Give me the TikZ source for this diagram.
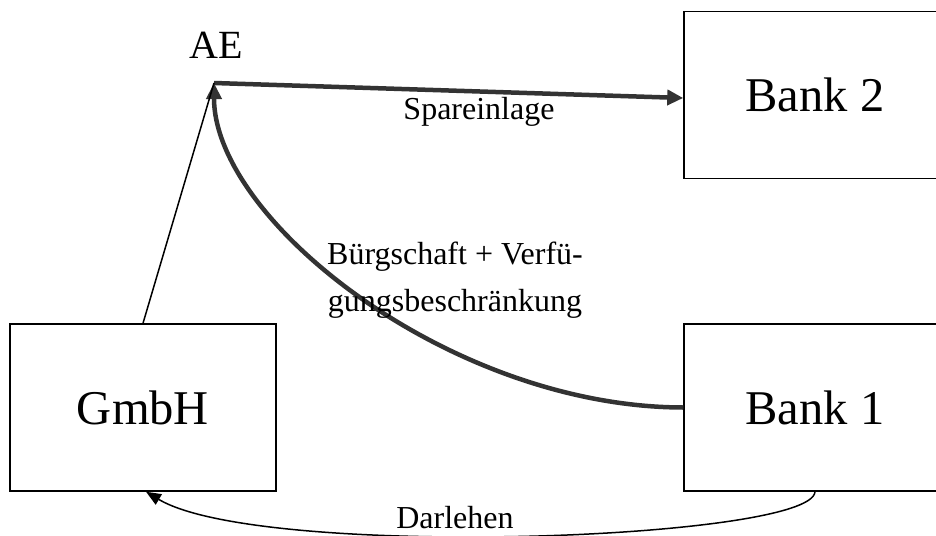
\documentclass[tikz,border=0pt]{standalone}
\usepackage{fontspec}
\setmainfont{Liberation Serif}
\usepackage{xcolor}
\usepackage{tikz}
\usetikzlibrary{arrows.meta}
\definecolor{flowgray}{RGB}{51,51,51}
\tikzset{
  party/.style={rectangle, draw=black, line width=1.5pt, inner sep=0pt,
                minimum width=262pt, minimum height=167pt,
                font=\fontsize{48.5}{52}\selectfont},
  flow/.style={draw=flowgray, line width=4.5pt,
               -{Triangle[length=16pt,width=15pt]}},
  thinflow/.style={draw=black, line width=1.5pt},
  flowtext/.style={inner sep=0pt, align=center,
                   font=\fontsize{32}{47}\selectfont}
}
\begin{document}
\begin{tikzpicture}[x=1pt, y=-1pt]
    \clip (0,0) rectangle (936,535);
    % parties
    \node[party] (bank2) at (815,95) {Bank 2};
    \node[party, minimum width=266pt] (gmbh) at (143,407.5) {GmbH};
    \node[party] (bank1) at (815,407.5) {Bank 1};
    \node[font=\fontsize{40}{44}\selectfont, inner sep=0pt, anchor=base]
      (aename) at (216,59) {AE};
    \coordinate (ae) at (214,83);
    % connectors
    \draw[flow] (ae) -- ([yshift=-3pt]bank2.west);
    \draw[flow] (bank1.west) .. controls (450,407) and (214,220) .. (ae);
    \draw[thinflow] (gmbh.north) -- (ae);
    \draw[thinflow, -{Triangle[length=15pt,width=12pt]}]
      (bank1.south) .. controls (812,540) and (260,560) .. ([xshift=3pt]gmbh.south);
    % labels
    \node[flowtext, anchor=base] (spare) at (479,119) {Spareinlage};
    \node[flowtext, anchor=north] (buerg) at (455,242)
      {Bürgschaft + Verfü-\\gungsbeschränkung};
    \node[flowtext, anchor=base] (darl) at (455,528) {Darlehen};
\end{tikzpicture}
\end{document}
